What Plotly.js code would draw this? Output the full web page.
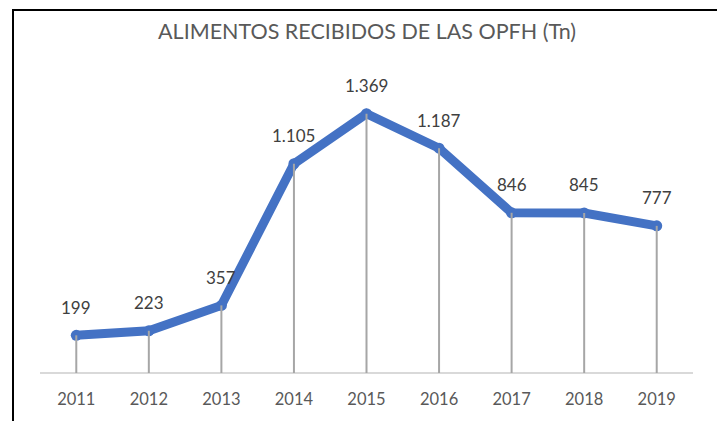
<!DOCTYPE html>
<html>
<head>
<meta charset="utf-8">
<script src="https://cdn.plot.ly/plotly-3.0.1.min.js"></script>
<style>
html,body{margin:0;padding:0;background:#fff;}
#wrap{position:relative;width:717px;height:421px;overflow:hidden;}
#chart{position:absolute;left:0;top:0;width:717px;height:421px;}
#frame{position:absolute;left:12px;top:9px;width:720px;height:420px;border-left:2px solid #000;border-top:2px solid #000;pointer-events:none;}
</style>
</head>
<body>
<div id="wrap"><div id="chart"></div><div id="frame"></div></div>
<script>
const years = ['2011','2012','2013','2014','2015','2016','2017','2018','2019'];
const values = [199, 223, 357, 1105, 1369, 1187, 846, 845, 777];
const labels = ['199','223','357','1.105','1.369','1.187','846','845','777'];

const lineTrace = {
  x: years, y: values, type: 'scatter', mode: 'lines+markers',
  line: {color: '#4472C4', width: 9},
  marker: {color: '#4472C4', size: 11},
  hoverinfo: 'none'
};
const dropTrace = {
  x: years, y: values, type: 'scatter', mode: 'markers',
  marker: {color: 'rgba(0,0,0,0)', size: 1},
  error_y: {type: 'data', symmetric: false, array: values.map(() => 0), arrayminus: values,
            color: '#A6A6A6', thickness: 2, width: 0},
  hoverinfo: 'none'
};
const annotations = years.map((yr, i) => ({
  x: i, y: values[i], xref: 'x', yref: 'y', text: labels[i], showarrow: false,
  yshift: 28, font: {family: 'Lato, sans-serif', size: 17, color: '#404040'}
}));

const layout = {
  width: 717, height: 421,
  margin: {l: 40, r: 24, t: 70, b: 48},
  paper_bgcolor: '#fff', plot_bgcolor: '#fff',
  showlegend: false,
  title: {text: 'ALIMENTOS RECIBIDOS DE LAS OPFH (Tn)', x: 0.512, xanchor: 'center', y: 0.925, yanchor: 'middle',
          font: {family: 'Lato, sans-serif', size: 21.5, color: '#595959'}},
  xaxis: {type: 'category', range: [-0.5, 8.5], showgrid: false, zeroline: false,
          showline: false, ticks: '', tickfont: {family: 'Lato, sans-serif', size: 16.5, color: '#595959'},
          ticklabelstandoff: 14},
  yaxis: {range: [0, 1600], showgrid: false, zeroline: true, zerolinecolor: '#D9D9D9', zerolinewidth: 2,
          showticklabels: false, showline: false, ticks: ''},
  annotations: annotations
};
Plotly.newPlot('chart', [lineTrace, dropTrace], layout, {staticPlot: true});
</script>
</body>
</html>
